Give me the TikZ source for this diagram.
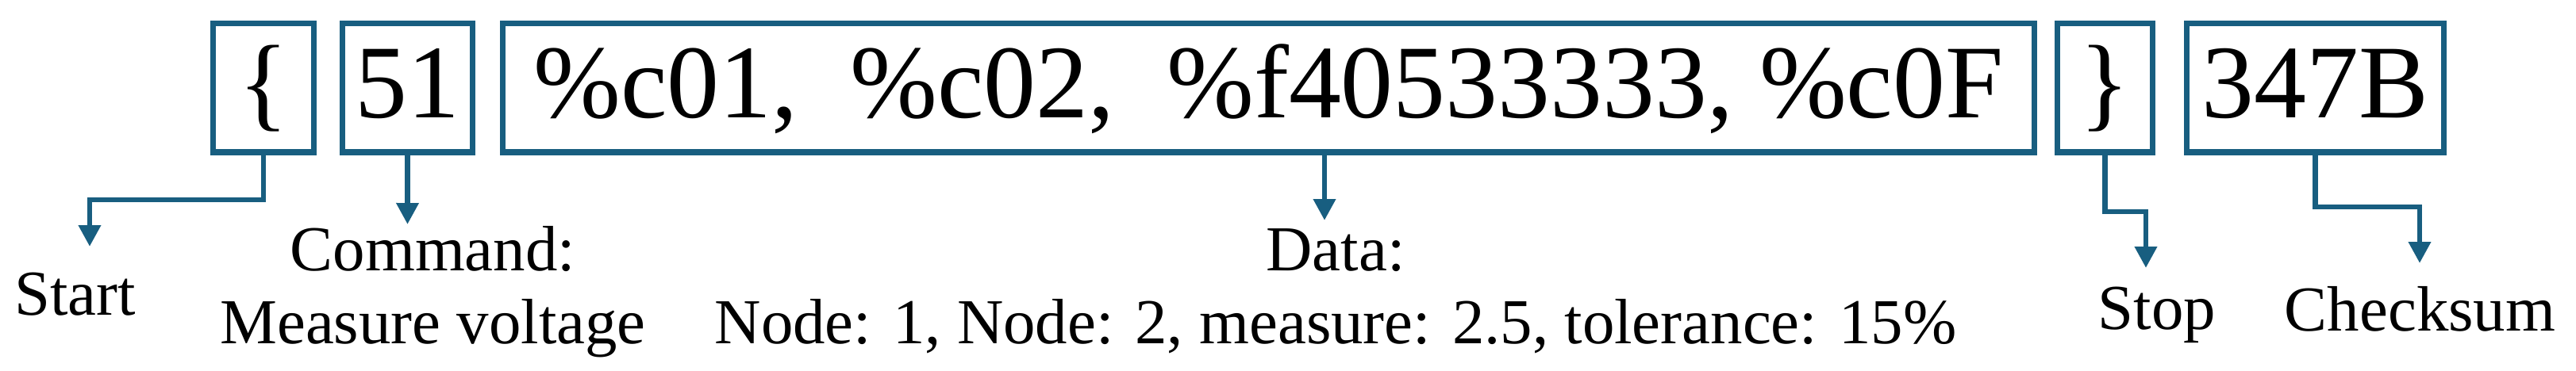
\documentclass[tikz,border=0pt]{standalone}
\usepackage{fontspec}
\setmainfont{Liberation Serif}
\usetikzlibrary{arrows.meta, positioning}
\definecolor{framecol}{RGB}{24,94,128}
\newcommand{\boxfont}{\fontsize{37.5}{40}\selectfont}
\newcommand{\lblfont}{\fontsize{23}{25.9}\selectfont}

\begin{document}
\begin{tikzpicture}[>={Triangle[length=2.7mm, width=2.7mm]},
    field/.style = {draw=framecol, line width=2pt, minimum height=1.625cm, inner sep=1pt, text height=1.045cm, text depth=0.3cm, font=\boxfont},
    lbl/.style = {align=center, inner sep=0pt, font=\lblfont},
    link/.style = {draw=framecol, line width=1.9pt}]
    \useasboundingbox (0,0) rectangle (32.46,4.67);

    \node[field, minimum width=1.27cm] (lbrace) at (3.32,3.5625) {\{};
    \node[field, right = 0.29cm of lbrace, minimum width=1.64cm] (cmd) {51};
    \node[field, right = 0.31cm of cmd, minimum width=19.30cm] (data) {\%c01,\ \ \%c02,\ \ \%f40533333, \%c0F};
    \node[field, right = 0.22cm of data, minimum width=1.20cm] (rbrace) {\}};
    \node[field, right = 0.36cm of rbrace, minimum width=3.24cm] (chk) {347B};

    % two-line labels: base is the last line
    \node[lbl, anchor=base] (start) at (0.945,0.70) {Start};
    \node[lbl, anchor=base] (cmd-lbl) at (5.455,0.34) {Command:\\Measure voltage};
    \node[lbl, anchor=base] (data-lbl) at (16.83,0.34) {Data:\\Node: 1, Node: 2, measure: 2.5, tolerance: 15\%};
    \node[lbl, anchor=base] (stop) at (27.18,0.52) {Stop};
    \node[lbl, anchor=base] (chk-lbl) at (30.495,0.50) {Checksum};

    \coordinate (start-end) at (1.13,1.56);
    \coordinate (cmd-end) at (5.135,1.84);
    \coordinate (data-end) at (16.69,1.89);
    \coordinate (stop-end) at (27.04,1.29);
    \coordinate (chk-end) at (30.49,1.35);

    \draw[link, ->] (lbrace.south) -- ++(0,-0.565) -| (start-end);
    \draw[link, ->] (cmd.south) -- (cmd-end);
    \draw[link, ->] (data.south -| data-end) -- (data-end);
    \draw[link, ->] (rbrace.south) -- ++(0,-0.715) -| (stop-end);
    \draw[link, ->] (chk.south) -- ++(0,-0.655) -| (chk-end);

\end{tikzpicture}
\end{document}
